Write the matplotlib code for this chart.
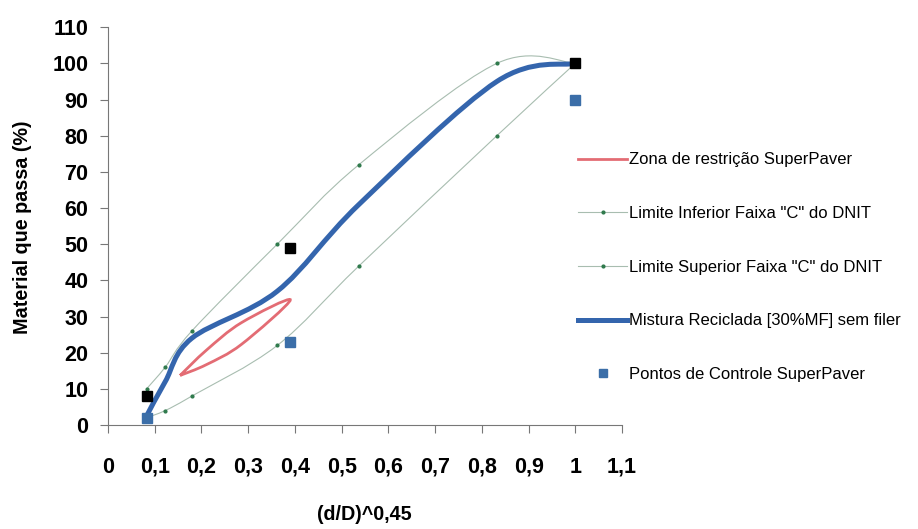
import numpy as np
import matplotlib
matplotlib.use("Agg")
import matplotlib.pyplot as plt
from matplotlib.path import Path
from matplotlib.patches import PathPatch
from matplotlib.lines import Line2D
from matplotlib.ticker import FuncFormatter

plt.rcParams['font.family'] = ['Liberation Sans', 'DejaVu Sans']

# peneiras (mm) e abertura maxima
D = 19.1
peneiras = np.array([19.1, 12.7, 4.8, 2.0, 0.42, 0.18, 0.075])

# faixa "C" do DNIT (% passante)
lim_inf = np.array([100, 80, 44, 22, 8, 4, 2])
lim_sup = np.array([100, 100, 72, 50, 26, 16, 10])

# mistura reciclada [30%MF] sem filer
mistura = np.array([100, 95, 61, 37, 24, 12, 2.5])

# zona de restricao SuperPave (contorno fechado)
zr_peneiras = np.array([0.3, 0.6, 1.18, 2.36, 1.18, 0.6, 0.3])
zr_passa = np.array([13.7, 20.7, 28.3, 34.6, 22.3, 16.7, 13.7])

# pontos de controle SuperPave
pc_peneiras = np.array([0.075, 2.36, 19.1])
pc_min = np.array([2, 23, 90])
pc_max = np.array([8, 49, 100])


def eixo_x(d):
    return (d / D) ** 0.45


def curva_suave(x, y):
    # bezier cubica tipo catmull-rom (linha suavizada)
    P = np.column_stack([x, y]).astype(float)
    n = len(P)
    verts = [P[0]]
    codes = [Path.MOVETO]
    for i in range(n - 1):
        p0 = P[i - 1] if i > 0 else P[i]
        p3 = P[i + 2] if i + 2 < n else P[i + 1]
        c1 = P[i] + (P[i + 1] - p0) / 6
        c2 = P[i + 1] - (p3 - P[i]) / 6
        verts += [c1, c2, P[i + 1]]
        codes += [Path.CURVE4] * 3
    return Path(verts, codes)


x_pen = eixo_x(peneiras)
x_zr = eixo_x(zr_peneiras)
x_pc = eixo_x(pc_peneiras)

c_azul = '#3465ad'
c_vermelho = '#e36c74'
c_limite = '#a8bdb0'
c_ponto = '#2f7a4c'

fig = plt.figure(figsize=(9.18, 5.29), dpi=100)
ax = fig.add_axes([0.1176, 0.1966, 0.560, 0.752])

ax.add_patch(PathPatch(curva_suave(x_pen, lim_inf), fill=False, ec=c_limite, lw=0.8))
ax.add_patch(PathPatch(curva_suave(x_pen, lim_sup), fill=False, ec=c_limite, lw=0.8))
ax.plot(x_pen, lim_inf, ls='none', marker='o', ms=2, color=c_ponto)
ax.plot(x_pen, lim_sup, ls='none', marker='o', ms=2, color=c_ponto)

ax.add_patch(PathPatch(curva_suave(x_zr, zr_passa), fill=False, ec=c_vermelho, lw=2.0))
ax.add_patch(PathPatch(curva_suave(x_pen, mistura), fill=False, ec=c_azul, lw=3.6,
                       capstyle='round'))

ax.plot(x_pc, pc_max, ls='none', marker='s', ms=7.5, color='black', clip_on=False)
ax.plot(x_pc, pc_min, ls='none', marker='s', ms=7.5, color='#3b6ea8', clip_on=False)

ax.set_xlim(0, 1.1)
ax.set_ylim(0, 110)
ax.set_xticks(np.arange(0, 1.11, 0.1))
ax.set_yticks(np.arange(0, 111, 10))
ax.xaxis.set_major_formatter(FuncFormatter(lambda v, p: ('%g' % round(v, 1)).replace('.', ',')))

for s in ['top', 'right']:
    ax.spines[s].set_visible(False)
for s in ['left', 'bottom']:
    ax.spines[s].set_color('#777777')
    ax.spines[s].set_linewidth(0.8)

ax.tick_params(axis='both', direction='out', length=6, width=0.8, color='#777777',
               labelsize=15.5)
ax.tick_params(axis='x', pad=17)
ax.tick_params(axis='y', pad=8)
for lb in ax.get_xticklabels() + ax.get_yticklabels():
    lb.set_fontweight('bold')

fig.text(0.397, 0.027, '(d/D)^0,45', ha='center', va='center', fontsize=14.2,
         fontweight='bold')
fig.text(0.025, 0.57, 'Material que passa (%)', ha='center', va='center',
         rotation=90, fontsize=14.2, fontweight='bold')

handles = [
    Line2D([], [], color=c_vermelho, lw=2.0),
    Line2D([], [], color=c_limite, lw=0.8, marker='o', ms=2, mfc=c_ponto, mec=c_ponto),
    Line2D([], [], color=c_limite, lw=0.8, marker='o', ms=2, mfc=c_ponto, mec=c_ponto),
    Line2D([], [], color=c_azul, lw=3.6),
    Line2D([], [], ls='none', marker='s', ms=6, color='#3b6ea8'),
]
labels = [
    'Zona de restrição SuperPaver',
    'Limite Inferior Faixa "C" do DNIT',
    'Limite Superior Faixa "C" do DNIT',
    'Mistura Reciclada [30%MF] sem filer',
    'Pontos de Controle SuperPaver',
]
fig.legend(handles, labels, loc='upper left', bbox_to_anchor=(0.630, 0.712),
           frameon=False, fontsize=12, handlelength=2.9, handletextpad=0.15,
           labelspacing=2.32, borderpad=0, borderaxespad=0)

fig.savefig('out.png', dpi=100)
